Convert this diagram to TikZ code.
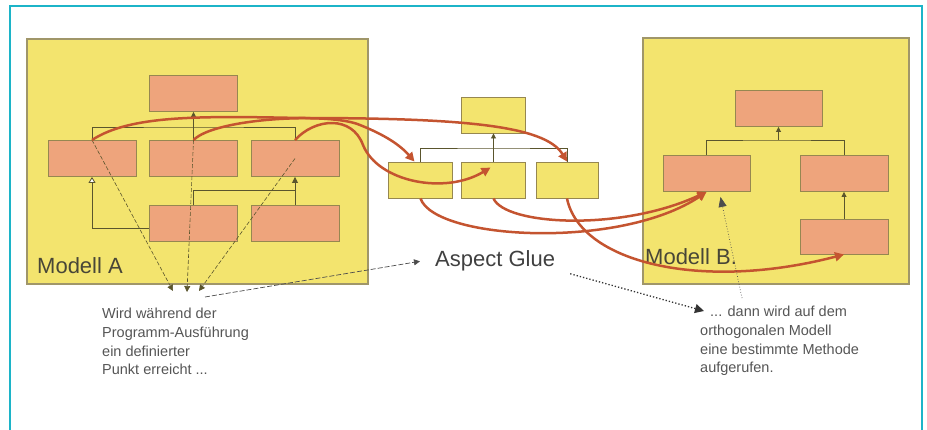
\documentclass[tikz,border=0pt]{standalone}
\usepackage{fontspec}
\setmainfont{Liberation Sans}
\usetikzlibrary{arrows.meta,positioning}

\definecolor{framecyan}{RGB}{28,180,200}
\definecolor{modelyellow}{RGB}{243,228,110}
\definecolor{modelborder}{RGB}{160,150,105}
\definecolor{classsalmon}{RGB}{238,164,124}
\definecolor{boxline}{RGB}{150,135,80}
\definecolor{treecol}{RGB}{90,85,45}
\definecolor{arcred}{RGB}{196,84,48}
\definecolor{labelgrey}{RGB}{72,70,55}
\definecolor{notegrey}{RGB}{85,85,85}

\tikzset{
  modelbox/.style={draw=modelborder, fill=modelyellow, line width=1.2pt, inner sep=0pt},
  classbox/.style={draw=boxline, fill=classsalmon, line width=0.9pt,
    minimum width=88pt, minimum height=36pt, inner sep=0pt},
  gluebox/.style={classbox, fill=modelyellow, minimum width=64pt},
  treelink/.style={draw=treecol, line width=0.8pt},
  gluearc/.style={draw=arcred, line width=2.5pt, -{Triangle[length=9pt,width=9pt]}},
  pointer/.style={draw=treecol, line width=0.6pt, dash pattern=on 4pt off 2pt,
    -{Triangle[length=6pt,width=6pt]}},
  modellabel/.style={text=labelgrey, inner sep=0pt, font=\fontsize{22}{26}\selectfont},
  note/.style={text=notegrey, inner sep=0pt, align=left,
    font=\fontsize{14.5}{18.7}\selectfont}
}

\begin{document}
\begin{tikzpicture}[x=1pt, y=-1pt]
  \useasboundingbox (0,0) rectangle (927,430);
  % frame
  \draw[framecyan, line width=2pt] (10,430) -- (10,6) -- (922,6) -- (922,430);

  % Modell A
  \node[modelbox, minimum width=341pt, minimum height=245pt] (modA) at (197.5,161.5) {};
  \node[classbox] (aTop) at (193.5,93.5) {};
  \node[classbox] (aLeft) at (92,158.5) {};
  \node[classbox] (aMid) at (193.5,158.5) {};
  \node[classbox] (aRight) at (295,158.5) {};
  \node[classbox] (aBotMid) at (193.5,223.5) {};
  \node[classbox] (aBotRight) at (295,223.5) {};
  \node[modellabel, anchor=base west] (labA) at (37,274) {Modell A};

  \coordinate (barA) at (193.5,127);
  \draw[treelink] (aLeft.north) |- (barA) -| (aRight.north);
  \draw[treelink, -{Triangle[length=5pt,width=5pt]}] (aMid.north) -- (aTop.south);
  \draw[treelink] (aBotMid.north) -- ++(0,-15) -| (aBotRight.north);
  \draw[treelink, -{Triangle[length=6pt,width=6pt]}] (aBotRight.north) -- (aRight.south);
  \draw[treelink, -{Triangle[open,fill=white,length=6pt,width=7pt]}]
    ([yshift=-4.5pt]aBotMid.west) -| (aLeft.south);

  % Aspect Glue
  \node[gluebox] (gTop) at (493.5,115) {};
  \node[gluebox] (gLeft) at (420.5,180) {};
  \node[gluebox] (gMid) at (493.5,180) {};
  \node[gluebox, minimum width=62pt] (gRight) at (567,180) {};
  \coordinate (barG) at (493.5,148);
  \draw[treelink] (gLeft.north) |- (barG) -| (gRight.north);
  \draw[treelink, -{Triangle[length=5pt,width=5pt]}] (gMid.north) -- (gTop.south);

  % Modell B
  \node[modelbox, minimum width=266pt, minimum height=246pt] (modB) at (776,161) {};
  \node[classbox, minimum width=87pt] (bTop) at (778.5,108.5) {};
  \node[classbox, minimum width=87pt] (bLeft) at (706.5,173.5) {};
  \node[classbox] (bRight) at (844,173.5) {};
  \node[classbox, minimum height=35pt] (bBot) at (844,236.5) {};
  \node[modellabel, anchor=base west] (labB) at (645,265) {Modell B.};

  \coordinate (barB) at (778.5,140);
  \draw[treelink] (bLeft.north) |- (barB) -| (bRight.north);
  \draw[treelink, -{Triangle[length=5pt,width=5pt]}] (barB) -- (bTop.south);
  \draw[treelink, -{Triangle[length=5pt,width=5pt]}] (bBot.north) -- (bRight.south);

  % join points
  \coordinate (pA1) at (173,291);
  \coordinate (pA2) at (187,292);
  \coordinate (pA3) at (199,291);
  \draw[pointer] (aLeft.north) -- (pA1);
  \draw[pointer] (aMid.north) -- (pA2);
  \draw[pointer] (aRight.center) -- (pA3);

  % weaving arcs
  \draw[gluearc] (aLeft.north) .. controls (130,115) and (200,116) .. (300,118)
    .. controls (460,118) and (545,125) .. (gRight.north);
  \draw[gluearc] (aMid.north) .. controls (215,118) and (330,112) .. (360,125)
    .. controls (385,135) and (400,145) .. ([xshift=-6pt]gLeft.north);
  \draw[gluearc] (aRight.north) .. controls (315,118) and (352,115) .. (363,145)
    .. controls (378,182) and (445,195) .. ([xshift=-3pt,yshift=-6pt]gMid.north);
  \draw[gluearc] (gLeft.south) .. controls (435,240) and (620,250) .. (bLeft.south);
  \draw[gluearc] (gMid.south) .. controls (505,225) and (620,232) .. (bLeft.south);
  \draw[gluearc] (gRight.south) .. controls (580,262) and (700,292) .. (bBot.south);

  % notes
  \node[modellabel, text=black!75, anchor=base west, inner xsep=15pt, inner ysep=2pt]
    (glue) at (420,267) {Aspect Glue};
  \node[note, anchor=base west] (txtA) at (102,375)
    {Wird während der\\Programm-Ausführung\\ein definierter\\Punkt erreicht ...};
  \node[note, anchor=base west] (txtB) at (700,373)
    {\hspace*{10pt}... dann wird auf dem\\orthogonalen Modell\\eine bestimmte Methode\\aufgerufen.};

  \coordinate (gStart) at (205,297);
  \coordinate (tipB) at (704,311);
  \coordinate (callB) at (742,298);
  \draw[draw=black!70, line width=0.7pt, dash pattern=on 5pt off 2pt,
    -{Triangle[length=6pt,width=6pt]}] (gStart) -- (glue.west);
  \draw[draw=black!80, line width=1.3pt, dotted, -{Triangle[length=9pt,width=9pt]}]
    (glue.south east) -- (tipB);
  \draw[draw=black!70, line width=0.7pt, dotted, -{Triangle[length=10pt,width=8pt]}]
    (callB) -- ([xshift=14pt,yshift=-5pt]bLeft.south);
\end{tikzpicture}
\end{document}
